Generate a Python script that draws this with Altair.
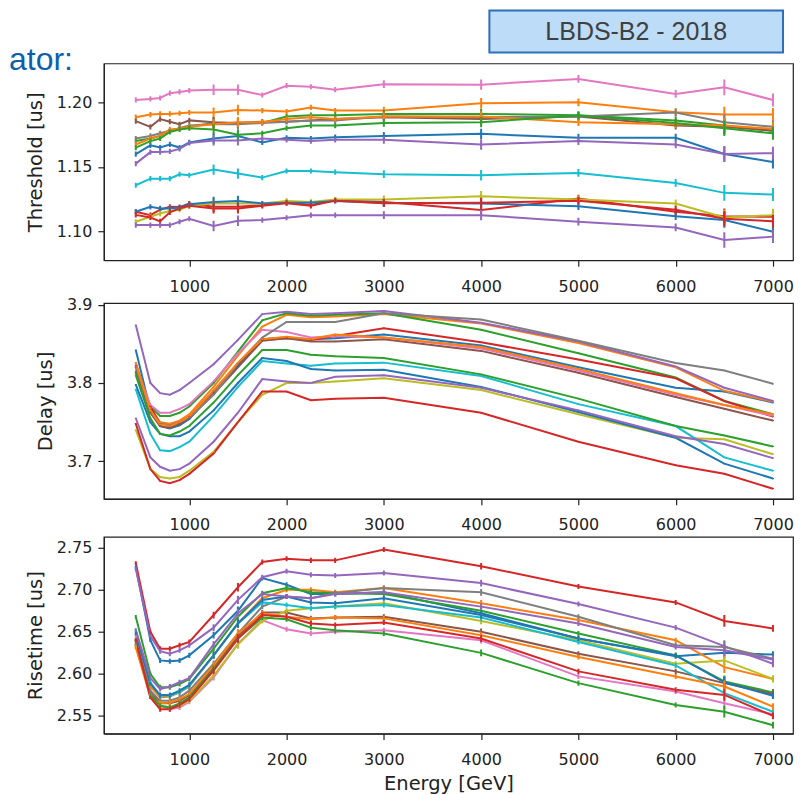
import altair as alt
import pandas as pd

# ---------------- data ----------------
energy = [450, 600, 700, 800, 900, 1000, 1250, 1500, 1750, 2000, 2250, 2500, 3000, 4000, 5000, 6000, 6500, 7000]

series_names = ["s00", "s01", "s02", "s03", "s04", "s05", "s06", "s07",
                "s08", "s09", "s10", "s11", "s12", "s13", "s14"]
series_colors = ["#1f77b4", "#ff7f0e", "#2ca02c", "#d62728", "#9467bd", "#8c564b", "#e377c2", "#7f7f7f",
                 "#bcbd22", "#17becf", "#1f77b4", "#ff7f0e", "#2ca02c", "#d62728", "#9467bd"]

threshold = [
    [1.160, 1.1667, 1.165, 1.1674, 1.165, 1.169, 1.172, 1.174, 1.169, 1.1726, 1.172, 1.173, 1.174, 1.1756, 1.1726, 1.1726, 1.160, 1.1538],
    [1.1885, 1.1905, 1.191, 1.191, 1.1915, 1.192, 1.192, 1.194, 1.1936, 1.1928, 1.196, 1.1936, 1.1936, 1.1992, 1.200, 1.1923, 1.1905, 1.1905],
    [1.170, 1.172, 1.174, 1.178, 1.180, 1.181, 1.184, 1.184, 1.184, 1.189, 1.190, 1.190, 1.191, 1.191, 1.190, 1.186, 1.182, 1.178],
    [1.1154, 1.1128, 1.117, 1.1192, 1.119, 1.1218, 1.1192, 1.1192, 1.1205, 1.123, 1.1205, 1.1244, 1.123, 1.1167, 1.1256, 1.1154, 1.112, 1.1115],
    [1.1526, 1.1615, 1.1615, 1.162, 1.164, 1.1685, 1.1705, 1.1705, 1.172, 1.171, 1.170, 1.171, 1.171, 1.1674, 1.170, 1.1674, 1.160, 1.1607],
    [1.1854, 1.181, 1.187, 1.185, 1.183, 1.186, 1.1846, 1.184, 1.185, 1.185, 1.186, 1.187, 1.1885, 1.187, 1.189, 1.182, 1.181, 1.178],
    [1.2018, 1.2026, 1.2033, 1.207, 1.208, 1.209, 1.2097, 1.2097, 1.2056, 1.2128, 1.212, 1.2097, 1.214, 1.2136, 1.218, 1.2064, 1.2115, 1.2018],
    [1.172, 1.174, 1.176, 1.178, 1.180, 1.182, 1.183, 1.183, 1.184, 1.185, 1.186, 1.186, 1.189, 1.1885, 1.189, 1.192, 1.1846, 1.181],
    [1.1077, 1.1115, 1.114, 1.116, 1.117, 1.120, 1.1218, 1.1218, 1.1218, 1.1238, 1.123, 1.1249, 1.1249, 1.1274, 1.1249, 1.1218, 1.111, 1.1128],
    [1.1359, 1.141, 1.141, 1.141, 1.1444, 1.1436, 1.148, 1.1449, 1.1418, 1.1469, 1.1469, 1.146, 1.1444, 1.1436, 1.1454, 1.1377, 1.130, 1.1287],
    [1.1154, 1.1192, 1.118, 1.118, 1.1187, 1.1213, 1.123, 1.1238, 1.1218, 1.1223, 1.1223, 1.1238, 1.1223, 1.1218, 1.1197, 1.112, 1.109, 1.100],
    [1.1674, 1.172, 1.174, 1.179, 1.1795, 1.181, 1.183, 1.1846, 1.1846, 1.187, 1.1885, 1.187, 1.189, 1.189, 1.1846, 1.183, 1.182, 1.1795],
    [1.165, 1.170, 1.172, 1.177, 1.179, 1.180, 1.179, 1.175, 1.176, 1.180, 1.182, 1.182, 1.184, 1.1846, 1.1897, 1.184, 1.180, 1.176],
    [1.113, 1.111, 1.108, 1.115, 1.118, 1.120, 1.118, 1.118, 1.120, 1.122, 1.120, 1.124, 1.122, 1.1223, 1.124, 1.117, 1.110, 1.108],
    [1.1051, 1.1051, 1.1051, 1.1051, 1.1077, 1.110, 1.1044, 1.1085, 1.109, 1.1108, 1.1128, 1.1128, 1.1128, 1.1128, 1.1077, 1.1033, 1.0936, 1.0962],
]
threshold_err = [0.002, 0.002, 0.002, 0.002, 0.002, 0.002, 0.004, 0.004, 0.002, 0.002, 0.002, 0.002, 0.003, 0.004, 0.003, 0.003, 0.006, 0.005]

delay = [
    [3.842, 3.765, 3.745, 3.742, 3.746, 3.754, 3.788, 3.822, 3.856, 3.858, 3.856, 3.857, 3.862, 3.848, 3.820, 3.794, 3.789, 3.775],
    [3.826, 3.768, 3.750, 3.748, 3.752, 3.760, 3.795, 3.835, 3.872, 3.887, 3.884, 3.885, 3.888, 3.876, 3.851, 3.820, 3.790, 3.776],
    [3.813, 3.770, 3.758, 3.758, 3.762, 3.770, 3.800, 3.840, 3.880, 3.889, 3.886, 3.887, 3.889, 3.868, 3.838, 3.807, 3.777, 3.760],
    [3.822, 3.770, 3.748, 3.744, 3.748, 3.757, 3.790, 3.825, 3.855, 3.857, 3.855, 3.860, 3.870, 3.852, 3.830, 3.806, 3.777, 3.757],
    [3.874, 3.800, 3.787, 3.785, 3.791, 3.800, 3.824, 3.855, 3.888, 3.891, 3.888, 3.889, 3.892, 3.877, 3.853, 3.821, 3.794, 3.777],
    [3.815, 3.762, 3.745, 3.743, 3.748, 3.755, 3.786, 3.820, 3.854, 3.857, 3.853, 3.853, 3.856, 3.841, 3.813, 3.782, 3.767, 3.752],
    [3.820, 3.772, 3.762, 3.762, 3.767, 3.773, 3.802, 3.838, 3.868, 3.865, 3.858, 3.860, 3.858, 3.844, 3.816, 3.785, 3.772, 3.758],
    [3.820, 3.765, 3.748, 3.746, 3.750, 3.756, 3.785, 3.825, 3.858, 3.878, 3.878, 3.878, 3.889, 3.881, 3.854, 3.8255, 3.816, 3.799],
    [3.740, 3.690, 3.680, 3.678, 3.680, 3.688, 3.712, 3.750, 3.785, 3.800, 3.800, 3.802, 3.806, 3.791, 3.760, 3.730, 3.728, 3.709],
    [3.792, 3.735, 3.714, 3.713, 3.718, 3.725, 3.758, 3.795, 3.828, 3.825, 3.822, 3.825, 3.826, 3.809, 3.773, 3.745, 3.705, 3.688],
    [3.798, 3.750, 3.735, 3.732, 3.732, 3.738, 3.765, 3.800, 3.832, 3.828, 3.818, 3.816, 3.817, 3.795, 3.763, 3.730, 3.697, 3.678],
    [3.825, 3.765, 3.747, 3.745, 3.750, 3.758, 3.790, 3.826, 3.856, 3.859, 3.856, 3.862, 3.858, 3.846, 3.818, 3.787, 3.772, 3.760],
    [3.810, 3.755, 3.735, 3.733, 3.738, 3.745, 3.775, 3.810, 3.842, 3.842, 3.836, 3.834, 3.832, 3.811, 3.780, 3.745, 3.733, 3.719],
    [3.748, 3.690, 3.675, 3.672, 3.676, 3.684, 3.710, 3.750, 3.789, 3.789, 3.778, 3.780, 3.781, 3.762, 3.725, 3.695, 3.684, 3.665],
    [3.755, 3.705, 3.693, 3.688, 3.690, 3.697, 3.725, 3.762, 3.805, 3.802, 3.800, 3.808, 3.810, 3.794, 3.765, 3.732, 3.722, 3.704],
]
delay_err = [0.0008, 0.0008, 0.0008, 0.0008, 0.0008, 0.0008, 0.0008, 0.0008, 0.0008, 0.0008, 0.0008, 0.0008, 0.0008, 0.0008, 0.0008, 0.0008, 0.0008, 0.0008]

risetime = [
    [2.727, 2.640, 2.616, 2.615, 2.616, 2.622, 2.646, 2.675, 2.714, 2.706, 2.695, 2.695, 2.697, 2.672, 2.642, 2.621, 2.625, 2.623],
    [2.640, 2.585, 2.572, 2.573, 2.578, 2.585, 2.622, 2.660, 2.690, 2.700, 2.700, 2.697, 2.702, 2.684, 2.664, 2.640, 2.608, 2.594],
    [2.668, 2.600, 2.584, 2.584, 2.588, 2.594, 2.630, 2.668, 2.696, 2.702, 2.697, 2.696, 2.695, 2.675, 2.648, 2.622, 2.591, 2.578],
    [2.732, 2.650, 2.630, 2.630, 2.634, 2.638, 2.670, 2.703, 2.733, 2.737, 2.735, 2.735, 2.748, 2.728, 2.704, 2.685, 2.663, 2.654],
    [2.725, 2.645, 2.627, 2.624, 2.628, 2.634, 2.655, 2.688, 2.715, 2.722, 2.718, 2.717, 2.720, 2.708, 2.683, 2.655, 2.633, 2.612],
    [2.635, 2.578, 2.565, 2.565, 2.568, 2.575, 2.608, 2.645, 2.673, 2.673, 2.666, 2.667, 2.668, 2.650, 2.624, 2.603, 2.589, 2.576],
    [2.645, 2.575, 2.562, 2.558, 2.560, 2.567, 2.596, 2.636, 2.664, 2.653, 2.648, 2.650, 2.652, 2.640, 2.597, 2.579, 2.565, 2.552],
    [2.635, 2.580, 2.568, 2.568, 2.572, 2.580, 2.612, 2.648, 2.680, 2.692, 2.690, 2.696, 2.702, 2.697, 2.668, 2.634, 2.632, 2.618],
    [2.632, 2.575, 2.562, 2.560, 2.562, 2.568, 2.598, 2.635, 2.663, 2.675, 2.678, 2.680, 2.684, 2.663, 2.640, 2.612, 2.616, 2.594],
    [2.652, 2.590, 2.574, 2.574, 2.578, 2.586, 2.622, 2.660, 2.685, 2.682, 2.678, 2.680, 2.682, 2.667, 2.638, 2.610, 2.577, 2.555],
    [2.648, 2.588, 2.575, 2.575, 2.580, 2.587, 2.622, 2.660, 2.688, 2.692, 2.685, 2.684, 2.690, 2.670, 2.642, 2.622, 2.590, 2.574],
    [2.632, 2.572, 2.565, 2.566, 2.570, 2.576, 2.610, 2.648, 2.672, 2.668, 2.665, 2.667, 2.666, 2.646, 2.620, 2.597, 2.585, 2.561],
    [2.640, 2.575, 2.562, 2.560, 2.565, 2.572, 2.606, 2.642, 2.667, 2.665, 2.655, 2.652, 2.648, 2.625, 2.589, 2.563, 2.555, 2.539],
    [2.640, 2.572, 2.558, 2.558, 2.563, 2.570, 2.604, 2.642, 2.670, 2.668, 2.660, 2.658, 2.661, 2.642, 2.603, 2.581, 2.575, 2.550],
    [2.652, 2.595, 2.582, 2.585, 2.590, 2.595, 2.635, 2.672, 2.695, 2.692, 2.690, 2.695, 2.697, 2.680, 2.660, 2.632, 2.628, 2.617],
]
risetime_err = [0.002, 0.002, 0.003, 0.003, 0.003, 0.003, 0.004, 0.005, 0.003, 0.003, 0.003, 0.003, 0.003, 0.004, 0.003, 0.003, 0.007, 0.004]

x_ticks = [1000, 2000, 3000, 4000, 5000, 6000, 7000]
thr_ticks = [1.10, 1.15, 1.20]
del_ticks = [3.7, 3.8, 3.9]
ris_ticks = [2.55, 2.60, 2.65, 2.70, 2.75]

box_label = ["LBDS-B2 - 2018"]
side_label = ["ator:"]

# ---------------- table ----------------
rows = []
for key, table, errs in [("thr", threshold, threshold_err), ("del", delay, delay_err), ("ris", risetime, risetime_err)]:
    for i, vals in enumerate(table):
        for e, v, er in zip(energy, vals, errs):
            rows.append({"panel": key, "series": series_names[i], "energy": e,
                         "value": v, "lo": v - er, "hi": v + er})
df = pd.DataFrame(rows)

X_DOMAIN = [122, 7206]
W = 690

color = alt.Color("series:N", scale=alt.Scale(domain=series_names, range=series_colors), legend=None)


def anchor(y_top):
    # invisible 1px marker that fixes the top edge of a panel's bounds
    return alt.Chart(pd.DataFrame({"a": [0]})).mark_rect(opacity=0).encode(
        x=alt.value(0), x2=alt.value(1), y=alt.value(y_top), y2=alt.value(y_top + 1))


def panel(key, ytitle, ydomain, yticks, yfmt, xtitle, height):
    base = alt.Chart(df[df.panel == key])
    if xtitle:
        xaxis = alt.Axis(values=x_ticks, format="d", title=xtitle, labelPadding=12, titlePadding=7)
    else:
        xaxis = alt.Axis(values=x_ticks, format="d", title=None, labelPadding=12)
    x = alt.X("energy:Q", scale=alt.Scale(domain=X_DOMAIN, nice=False, zero=False), axis=xaxis)
    y = alt.Y("value:Q", scale=alt.Scale(domain=ydomain, nice=False, zero=False),
              axis=alt.Axis(values=yticks, format=yfmt, title=ytitle, labelPadding=6, titlePadding=11))
    lines = base.mark_line(strokeWidth=2, clip=True).encode(x=x, y=y, color=color)
    bars = base.mark_rule(strokeWidth=2, clip=True).encode(
        x=alt.X("energy:Q"), y=alt.Y("lo:Q"), y2="hi:Q", color=color)
    return alt.layer(lines, bars).properties(width=W, height=height)


top = panel("thr", "Threshold [us]", [1.078, 1.230], thr_ticks, ".2f", None, 197)
mid = panel("del", "Delay [us]", [3.652, 3.902], del_ticks, ".1f", None, 196)
bot = panel("ris", "Risetime [us]", [2.529, 2.763], ris_ticks, ".2f", "Energy [GeV]", 197)

# slide decorations around the top panel
left_anchor = alt.Chart(pd.DataFrame({"a": [0]})).mark_rect(opacity=0).encode(
    x=alt.value(-95), x2=alt.value(-94), y=alt.value(-54), y2=alt.value(-53))
box = alt.Chart(pd.DataFrame({"t": box_label})).mark_rect(
    fill="#bddcf8", stroke="#2e6fb7", strokeWidth=2).encode(
    x=alt.value(386), x2=alt.value(680), y=alt.value(-53), y2=alt.value(-11))
box_text = alt.Chart(pd.DataFrame({"t": box_label})).mark_text(
    font="Liberation Sans", fontSize=25, color="#404040", align="center", baseline="middle").encode(
    x=alt.value(533), y=alt.value(-31), text="t:N")
side_text = alt.Chart(pd.DataFrame({"t": side_label})).mark_text(
    font="Liberation Sans", fontSize=32, color="#0d5fab", align="right", baseline="alphabetic").encode(
    x=alt.value(-31), y=alt.value(7), text="t:N")

top_full = alt.layer(top, left_anchor, box, box_text, side_text)
mid_full = alt.layer(mid, anchor(-6.5))
bot_full = alt.layer(bot, anchor(-2))

chart = alt.vconcat(top_full, mid_full, bot_full, spacing=0).properties(
    padding={"left": 0, "top": 0, "right": 0, "bottom": 0}
).configure_view(
    stroke="#222222", strokeWidth=1.2
).configure_axis(
    grid=False,
    domainColor="#222222", domainWidth=1.2,
    tickColor="#222222", tickWidth=1.2, tickSize=6,
    labelColor="#222222", labelFont="DejaVu Sans", labelFontSize=16,
    titleColor="#222222", titleFont="DejaVu Sans", titleFontSize=19.5, titleFontWeight="normal",
)

chart.save("out.html", embed_options={"renderer": "svg", "actions": False})
